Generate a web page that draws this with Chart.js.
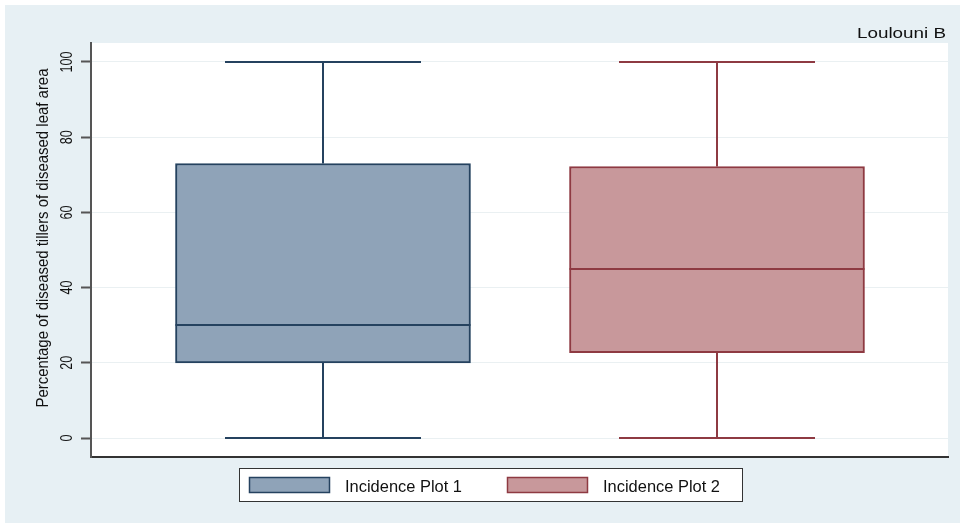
<!DOCTYPE html>
<html>
<head>
<meta charset="utf-8">
<script src="https://cdn.jsdelivr.net/npm/chart.js@4.4.1/dist/chart.umd.min.js"></script>
<style>
  html, body { margin: 0; padding: 0; background: #ffffff; }
  #wrap { width: 960px; height: 523px; }
</style>
</head>
<body>
<div id="wrap"><canvas id="c" width="960" height="523"></canvas></div>
<script>
// ---- data ----
const categories = ['Incidence Plot 1', 'Incidence Plot 2'];
const positions = [1, 2];
const whiskerLow = [0, 0];
const q1 = [20, 22.7];
const median = [30, 45];
const q3 = [73, 72.2];
const whiskerHigh = [100, 100];
const yTicks = [0, 20, 40, 60, 80, 100];
const yTitle = 'Percentage of diseased tillers of diseased leaf area';
const cornerNote = 'Loulouni B';

// ---- styles ----
const fills = ['#8FA3B8', '#C8989B'];
const strokes = ['#25425F', '#8E3A42'];
const FONT = '"Liberation Sans", Arial, Helvetica, sans-serif';
const outerBg = '#E7F0F4';

function drawText(ctx, text, x, y, opts) {
  ctx.save();
  ctx.font = opts.font;
  ctx.fillStyle = opts.color || '#111';
  ctx.textBaseline = 'alphabetic';
  ctx.translate(x, y);
  if (opts.rotate) ctx.rotate(opts.rotate);
  const w = ctx.measureText(text).width;
  const sx = opts.length ? opts.length / w : 1;
  ctx.scale(sx, 1);
  ctx.textAlign = opts.align || 'left';
  ctx.fillText(text, 0, 0);
  ctx.restore();
}

const boxPlugin = {
  id: 'boxPlugin',
  beforeDraw(chart) {
    const ctx = chart.ctx, a = chart.chartArea;
    ctx.save();
    ctx.fillStyle = '#ffffff';
    ctx.fillRect(0, 0, chart.width, chart.height);
    ctx.fillStyle = outerBg;
    ctx.fillRect(5, 5, chart.width - 5, chart.height - 5);
    ctx.fillStyle = '#ffffff';
    ctx.fillRect(a.left, a.top, a.right - a.left, a.bottom - a.top);
    ctx.restore();
  },
  beforeDatasetsDraw(chart) {
    const ctx = chart.ctx, xs = chart.scales.x, ys = chart.scales.y;
    ctx.save();
    ctx.lineWidth = 2;
    categories.forEach((c, i) => {
      const x = Math.round(xs.getPixelForValue(positions[i]));
      const capHalf = 98;
      ctx.strokeStyle = strokes[i];
      ctx.beginPath();
      ctx.moveTo(x, ys.getPixelForValue(whiskerLow[i]));
      ctx.lineTo(x, ys.getPixelForValue(q1[i]));
      ctx.moveTo(x, ys.getPixelForValue(q3[i]));
      ctx.lineTo(x, ys.getPixelForValue(whiskerHigh[i]));
      const yl = Math.round(ys.getPixelForValue(whiskerLow[i]));
      const yh = Math.round(ys.getPixelForValue(whiskerHigh[i]));
      ctx.moveTo(x - capHalf, yl); ctx.lineTo(x + capHalf, yl);
      ctx.moveTo(x - capHalf, yh); ctx.lineTo(x + capHalf, yh);
      ctx.stroke();
    });
    ctx.restore();
  },
  afterDatasetsDraw(chart) {
    const ctx = chart.ctx, ys = chart.scales.y;
    ctx.save();
    ctx.lineWidth = 2;
    categories.forEach((c, i) => {
      const bar = chart.getDatasetMeta(i).data[0];
      const half = bar.width / 2;
      const y = Math.round(ys.getPixelForValue(median[i]));
      ctx.strokeStyle = strokes[i];
      ctx.beginPath();
      ctx.moveTo(bar.x - half, y);
      ctx.lineTo(bar.x + half, y);
      ctx.stroke();
    });
    ctx.restore();
  },
  afterDraw(chart) {
    const ctx = chart.ctx, ys = chart.scales.y;
    yTicks.forEach(v => {
      drawText(ctx, String(v), 72, ys.getPixelForValue(v), {
        font: '17px ' + FONT, rotate: -Math.PI / 2, align: 'center',
        length: String(v).length * 7, color: '#111'
      });
    });
    drawText(ctx, yTitle, 48, 238, {
      font: '17px ' + FONT, rotate: -Math.PI / 2, align: 'center', length: 339, color: '#111'
    });
    drawText(ctx, cornerNote, 946, 38, { font: '15px ' + FONT, align: 'right', length: 89, color: '#111' });
    ctx.save();
    ctx.fillStyle = '#ffffff';
    ctx.fillRect(239, 468, 503, 33);
    ctx.strokeStyle = '#333';
    ctx.lineWidth = 1;
    ctx.strokeRect(239.5, 468.5, 503, 33);
    const sw = [249, 507], tx = [345, 603];
    categories.forEach((c, i) => {
      ctx.fillStyle = fills[i];
      ctx.fillRect(sw[i], 477, 81, 16);
      ctx.strokeStyle = strokes[i];
      ctx.lineWidth = 1.5;
      ctx.strokeRect(sw[i] + 0.5, 477.5, 80, 15);
      drawText(ctx, c, tx[i], 492, { font: '16px ' + FONT, length: 117, color: '#111' });
    });
    ctx.restore();
  }
};

new Chart(document.getElementById('c'), {
  type: 'bar',
  data: {
    datasets: categories.map((c, i) => ({
      label: c,
      data: [{ x: positions[i], y: [q1[i], q3[i]] }],
      backgroundColor: fills[i],
      borderColor: strokes[i],
      borderWidth: 2,
      borderSkipped: false,
      barThickness: 295,
      grouped: false
    }))
  },
  options: {
    responsive: false,
    animation: false,
    devicePixelRatio: 1,
    layout: { padding: { left: 81, top: 43, right: 12, bottom: 66 } },
    plugins: { legend: { display: false }, tooltip: { enabled: false } },
    scales: {
      x: {
        type: 'linear',
        offset: false,
        min: 0.4112,
        max: 2.5863,
        ticks: { display: false },
        grid: { display: false, drawTicks: false, tickLength: 0 },
        border: { display: true, color: '#333', width: 2 }
      },
      y: {
        type: 'linear',
        min: -5.05,
        max: 105.05,
        afterBuildTicks: s => { s.ticks = yTicks.map(v => ({ value: v })); },
        ticks: { display: false },
        grid: { color: '#EAF0F2', lineWidth: 1, tickColor: '#555', tickWidth: 2, tickLength: 10, drawTicks: true },
        border: { display: true, color: '#555', width: 2 }
      }
    }
  },
  plugins: [boxPlugin]
});
</script>
</body>
</html>
